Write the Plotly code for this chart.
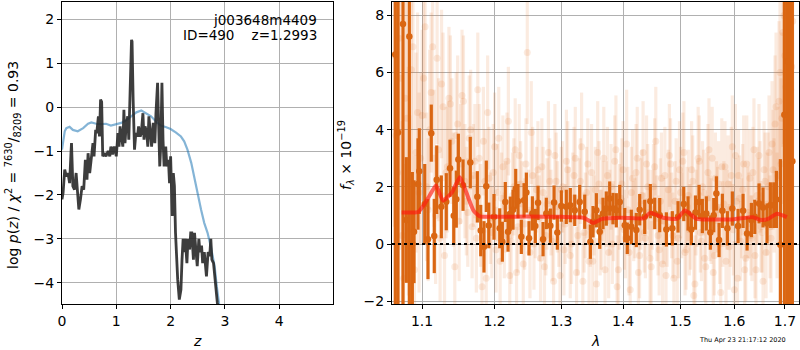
import plotly.graph_objects as go
import math

# ---------------- left panel: p(z) ----------------
pz_z = [0.0, 0.02, 0.05, 0.08, 0.11, 0.14, 0.165, 0.175, 0.2, 0.23, 0.26, 0.29, 0.31, 0.34, 0.37, 0.4,
        0.43, 0.46, 0.48, 0.51, 0.54, 0.57, 0.59, 0.62, 0.64, 0.67, 0.69, 0.71, 0.73, 0.75, 0.78, 0.81,
        0.85, 0.88, 0.9, 0.93, 0.96, 1.0, 1.03, 1.05, 1.07, 1.1, 1.12, 1.14, 1.16, 1.18, 1.21, 1.23,
        1.26, 1.28, 1.29, 1.31, 1.335, 1.36, 1.39, 1.41, 1.44, 1.46, 1.49, 1.51, 1.53, 1.56, 1.58, 1.6,
        1.63, 1.65, 1.68, 1.71, 1.73, 1.76, 1.78, 1.8, 1.82, 1.84, 1.86, 1.88, 1.91, 1.93, 1.96, 1.98,
        2.0, 2.02, 2.03, 2.05, 2.07, 2.09, 2.11, 2.13, 2.16, 2.19, 2.21, 2.23, 2.25, 2.27, 2.3, 2.32,
        2.35, 2.37, 2.39, 2.42, 2.44, 2.47, 2.49, 2.52, 2.54, 2.57, 2.59, 2.62, 2.64, 2.66, 2.69, 2.72,
        2.74, 2.76, 2.79, 2.81, 2.83, 2.86, 2.9]
pz_logp = [-2.1, -1.95, -1.42, -1.58, -1.5, -1.73, -1.05, -0.82, -1.8, -1.88, -1.5, -2.1, -2.33, -2.1, -1.8, -1.88,
           -1.2, -1.65, -1.05, -1.5, -1.12, -0.82, -1.12, -0.52, -0.59, -0.21, -0.67, 0.17, 0.12, -1.12, -1.05, -1.12,
           -1.0, -1.12, -0.9, -1.08, -0.9, -1.12, -0.59, -0.9, -0.44, -0.74, -0.9, -0.06, -0.82, -0.44, -0.21, -0.74,
           0.47, 1.53, 1.49, 0.17, -0.97, -0.59, -0.67, -0.44, -0.67, -0.59, -0.14, -0.74, -0.44, -0.59, -0.9, -0.21,
           -0.59, -0.9, -0.36, -0.82, -0.14, 0.55, -0.44, -1.35, -0.82, 0.55, -0.74, -1.35, -0.9, -1.35, -1.2, -1.73,
           -1.12, -2.1, -2.48, -1.5, -1.8, -2.86, -3.62, -3.92, -4.38, -4.15, -3.47, -3.0, -3.3, -3.0, -3.55, -3.0,
           -3.24, -2.86, -2.86, -3.47, -2.86, -3.3, -3.62, -3.0, -3.3, -3.15, -3.55, -3.3, -3.55, -3.85, -3.3, -3.39,
           -3.0, -3.47, -3.55, -3.85, -4.15, -4.45, -4.83]

chi_z = [0.0, 0.02, 0.05, 0.08, 0.14, 0.2, 0.29, 0.39, 0.48, 0.54, 0.63, 0.72, 0.81, 0.9, 1.0, 1.09,
         1.18, 1.27, 1.37, 1.46, 1.55, 1.64, 1.73, 1.82, 1.92, 2.0, 2.1, 2.19, 2.25, 2.31, 2.38, 2.44,
         2.5, 2.56, 2.62, 2.68, 2.74, 2.81, 2.85, 2.9, 2.93]
chi_val = [-0.97, -0.74, -0.55, -0.48, -0.45, -0.52, -0.55, -0.48, -0.38, -0.35, -0.38, -0.39, -0.38, -0.42, -0.38, -0.36,
           -0.3, -0.21, -0.12, -0.08, -0.14, -0.21, -0.33, -0.42, -0.46, -0.5, -0.58, -0.67, -0.78, -0.97, -1.27, -1.65,
           -2.03, -2.33, -2.64, -2.86, -3.17, -3.62, -4.08, -4.53, -4.83]

z_ticks = [0, 1, 2, 3, 4]
pz_ticks = [-4, -3, -2, -1, 0, 1, 2]

# ---------------- right panel: spectrum ----------------
spec_wave = [1.0652, 1.0687, 1.0751, 1.0794, 1.0833, 1.0872, 1.0894, 1.0946, 1.0963, 1.1035,
             1.1078, 1.1122, 1.1162, 1.1195, 1.1257, 1.1324, 1.1375, 1.1426, 1.1461, 1.1489,
             1.1554, 1.1655, 1.1754, 1.1802, 1.1848, 1.1881, 1.1916, 1.1991, 1.2074, 1.2112,
             1.2155, 1.2195, 1.2228, 1.2268, 1.2308, 1.2342, 1.2391, 1.2431, 1.2466, 1.2506,
             1.2556, 1.2601, 1.2642, 1.2718, 1.2768, 1.2830, 1.2887, 1.2938, 1.3000, 1.3078,
             1.3141, 1.3211, 1.3290, 1.3370, 1.3461, 1.3504, 1.3558, 1.3613, 1.3667, 1.3721,
             1.3777, 1.3832, 1.3887, 1.3944, 1.4028, 1.4071, 1.4139, 1.4224, 1.4282, 1.4368,
             1.4465, 1.4542, 1.4629, 1.4746, 1.4852, 1.4954, 1.5057, 1.5135, 1.5195, 1.5270,
             1.5336, 1.5397, 1.5471, 1.5545, 1.5609, 1.5658, 1.5709, 1.5771, 1.5866, 1.5961,
             1.6071, 1.6168, 1.6246, 1.6330, 1.6396, 1.6481, 1.6560, 1.6640, 1.6706, 1.6774,
             1.6827, 1.6908, 1.6989, 1.7051, 1.7112, 1.7153]
spec_flux = [6.63, 3.90, 7.70, 0.84, 7.26, 0.02, 0.43, 2.10, 2.55, 1.40,
             0.17, 3.88, 0.28, 2.25, 1.30, 1.48, 2.65, 0.99, 1.57, 2.96,
             2.06, 2.85, 1.65, 0.47, -0.10, 2.02, 0.65, 0.95, 0.55, 0.08,
             1.47, 0.43, 1.06, 1.20, 1.93, 1.50, 0.25, 1.53, 1.80, 0.20,
             1.07, 0.63, 1.44, 0.17, 1.07, 0.64, 1.45, 0.40, 1.33, 1.30,
             1.36, 1.18, 1.47, 1.13, 0.08, 0.78, 1.18, 0.43, 1.07, 1.24,
             1.59, 1.24, 1.18, 1.47, 0.66, 0.20, 0.60, 0.49, 1.20, 0.95,
             1.50, 1.07, 1.01, 0.51, 0.55, 0.95, 1.40, 1.07, 0.51, 1.10,
             1.47, 0.98, 1.07, 0.40, 1.01, 1.77, 0.14, 1.16, 0.55, 1.24,
             0.63, 1.16, 0.37, 0.84, 0.95, 1.42, 1.28, 0.72, 1.36, 1.36,
             1.56, -0.03, 4.52, 6.40, 1.63, 2.90]
spec_err = [20, 20, 20, 2.2, 20, 2.5, 1.8, 1.6, 1.5, 1.4,
            1.4, 1.0, 1.3, 1.2, 1.1, 1.0, 1.0, 1.0, 1.0, 0.9,
            0.9, 0.9, 0.9, 0.9, 0.9, 0.9, 0.8, 0.8, 0.7, 0.7,
            0.7, 0.7, 0.6, 0.7, 0.7, 0.6, 0.6, 0.6, 0.7, 0.6,
            0.6, 0.6, 0.6, 0.6, 0.55, 0.6, 0.6, 0.6, 0.55, 0.6,
            0.6, 0.55, 0.6, 0.6, 0.6, 0.55, 0.6, 0.6, 0.55, 0.6,
            0.6, 0.55, 0.6, 0.6, 0.6, 0.55, 0.6, 0.6, 0.55, 0.6,
            0.6, 0.55, 0.6, 0.6, 0.6, 0.55, 0.6, 0.6, 0.55, 0.6,
            0.6, 0.6, 0.6, 0.6, 0.6, 0.6, 0.6, 0.6, 0.6, 0.6,
            0.6, 0.6, 0.6, 0.6, 0.6, 0.7, 0.7, 0.7, 0.8, 0.8,
            1.0, 3.0, 20, 20, 20, 20]

faint_wave = [1.064, 1.068, 1.072, 1.076, 1.080, 1.084, 1.088, 1.092, 1.096, 1.100,
              1.104, 1.108, 1.112, 1.116, 1.120, 1.124, 1.128, 1.132, 1.136, 1.140,
              1.144, 1.148, 1.152, 1.156, 1.160, 1.164, 1.168, 1.172, 1.176, 1.180,
              1.184, 1.188, 1.192, 1.196, 1.200, 1.204, 1.208, 1.212, 1.216, 1.220,
              1.224, 1.228, 1.232, 1.236, 1.240, 1.244, 1.248, 1.252, 1.256, 1.260,
              1.264, 1.268, 1.272, 1.276, 1.280, 1.284, 1.288, 1.292, 1.296, 1.300,
              1.304, 1.308, 1.312, 1.316, 1.320, 1.324, 1.328, 1.332, 1.336, 1.340,
              1.344, 1.348, 1.352, 1.356, 1.360, 1.364, 1.368, 1.372, 1.376, 1.380,
              1.384, 1.388, 1.392, 1.396, 1.400, 1.404, 1.408, 1.412, 1.416, 1.420,
              1.424, 1.428, 1.432, 1.436, 1.440, 1.444, 1.448, 1.452, 1.456, 1.460,
              1.464, 1.468, 1.472, 1.476, 1.480, 1.484, 1.488, 1.492, 1.496, 1.500,
              1.504, 1.508, 1.512, 1.516, 1.520, 1.524, 1.528, 1.532, 1.536, 1.540,
              1.544, 1.548, 1.552, 1.556, 1.560, 1.564, 1.568, 1.572, 1.576, 1.580,
              1.584, 1.588, 1.592, 1.596, 1.600, 1.604, 1.608, 1.612, 1.616, 1.620,
              1.624, 1.628, 1.632, 1.636, 1.640, 1.644, 1.648, 1.652, 1.656, 1.660,
              1.664, 1.668, 1.672, 1.676, 1.680, 1.684, 1.688, 1.692, 1.696, 1.700,
              1.704, 1.708, 1.712, 1.716]
faint_flux = [6.6, 2.5, 5.8, -1.2, 4.4, 0.5, 6.9, 3.2, 1.8,
              4.5, 7.6, 1.2, 5.3, 3.0, 6.5, 0.2, 4.8, 2.5, 5.1, 3.6, -0.8, 4.2, 2.8, 5.0, 1.5, 3.7, 0.6, 2.9,
              5.4, 1.0, 3.6, -1.2, 2.3, 0.4, 3.4, 1.8, -0.6, 2.7, 1.3, 4.3, 0.1, 2.0, -1.0, 3.1, 1.4, 0.7,
              6.7, -0.3, 2.4, 1.0,
              2.6, -0.5, 1.8, 0.3, 3.2, 1.1, -1.3, 2.2, 0.6, 1.9, -0.2, 2.9, 1.2, 0.0, 2.4, -1.0, 1.5, 3.4, 0.4, 1.8,
              -0.6, 2.5, 1.0, -1.4, 2.1, 0.5, 3.0, 1.4, -0.3, 2.0, 0.8, 3.3, -0.9, 1.6, 2.6, 0.2, 1.2, -1.6, 2.3, 0.9,
              3.0, -0.4, 1.7, 0.4, 2.8, 1.1, -0.8, 2.0, 3.6, 0.3,
              1.5, -0.7, 2.4, 0.6, 3.1, 1.0, -1.2, 2.2, 0.2, 1.8, 2.9, -0.3, 1.3, 0.5, 2.6, -1.8, 1.1, 3.0, 0.4, 2.0,
              -0.5, 1.6, 3.3, 0.8, -1.0, 2.3, 1.2, 0.0, 2.7, 1.4, -0.6, 2.1, 0.7, 3.4, -1.6, 1.5, 2.4, 0.1, 1.9, -0.9,
              2.8, 1.0, 0.3, 2.5, -0.4, 1.7, 3.1, 0.6, -1.3, 2.2,
              1.4, 3.2, 0.2, 2.6, 4.2, 1.0, 5.0, 2.8, 7.4, 6.6, 3.9, 8.3, 5.4, 7.8]
faint_err = [6, 5, 6, 4, 5, 4, 5, 3.5, 3.5,
             3, 3.2, 2.5, 2.8, 2.4, 3.0, 2.2, 2.6, 2.3, 2.5, 2.2, 2.0, 2.4, 2.1, 2.3, 1.9, 2.2, 1.8, 2.0,
             2.0, 1.8, 1.9, 1.7, 1.8, 1.6, 1.9, 1.7, 1.5, 1.8, 1.6, 1.9, 1.5, 1.7, 1.6, 1.8, 1.5, 1.6, 2.5, 1.6, 1.7, 1.5,
             1.7, 1.5, 1.6, 1.4, 1.8, 1.5, 1.6, 1.7, 1.4, 1.5, 1.6, 1.8, 1.5, 1.4, 1.7, 1.6, 1.5, 1.9, 1.4, 1.6,
             1.5, 1.7, 1.4, 1.6, 1.5, 1.4, 1.8, 1.5, 1.6, 1.5, 1.4, 1.9, 1.5, 1.6, 1.7, 1.4, 1.5, 1.6, 1.7, 1.4,
             1.8, 1.5, 1.6, 1.4, 1.7, 1.5, 1.6, 1.5, 1.9, 1.4,
             1.5, 1.6, 1.7, 1.4, 1.8, 1.5, 1.6, 1.5, 1.4, 1.6, 1.7, 1.5, 1.4, 1.6, 1.7, 1.8, 1.5, 1.8, 1.4, 1.6,
             1.5, 1.6, 1.8, 1.5, 1.6, 1.6, 1.5, 1.4, 1.7, 1.5, 1.6, 1.7, 1.5, 1.8, 1.7, 1.5, 1.6, 1.4, 1.6, 1.5,
             1.7, 1.5, 1.4, 1.6, 1.5, 1.7, 1.8, 1.6, 1.6, 1.7,
             1.8, 2.0, 1.9, 2.1, 2.4, 2.2, 2.8, 3.0, 4.0, 4.5, 5.0, 6.0, 6.0, 7.0]

faint2_wave = [1.066, 1.070, 1.074, 1.078, 1.082, 1.086, 1.090, 1.094, 1.098, 1.102,
               1.106, 1.110, 1.114, 1.118, 1.122, 1.126, 1.130, 1.134, 1.138, 1.142,
               1.146, 1.150, 1.154, 1.158, 1.162, 1.166, 1.170, 1.174, 1.178, 1.182,
               1.186, 1.190, 1.194, 1.198, 1.202, 1.206, 1.210, 1.214, 1.218, 1.222,
               1.226, 1.230, 1.234, 1.238, 1.242, 1.246, 1.250, 1.254, 1.258, 1.262,
               1.266, 1.270, 1.274, 1.278, 1.282, 1.286, 1.290, 1.294, 1.298, 1.302,
               1.306, 1.310, 1.314, 1.318, 1.322, 1.326, 1.330, 1.334, 1.338, 1.342,
               1.346, 1.350, 1.354, 1.358, 1.362, 1.366, 1.370, 1.374, 1.378, 1.382,
               1.386, 1.390, 1.394, 1.398, 1.402, 1.406, 1.410, 1.414, 1.418, 1.422,
               1.426, 1.430, 1.434, 1.438, 1.442, 1.446, 1.450, 1.454, 1.458, 1.462,
               1.466, 1.470, 1.474, 1.478, 1.482, 1.486, 1.490, 1.494, 1.498, 1.502,
               1.506, 1.510, 1.514, 1.518, 1.522, 1.526, 1.530, 1.534, 1.538, 1.542,
               1.546, 1.550, 1.554, 1.558, 1.562, 1.566, 1.570, 1.574, 1.578, 1.582,
               1.586, 1.590, 1.594, 1.598, 1.602, 1.606, 1.610, 1.614, 1.618, 1.622,
               1.626, 1.630, 1.634, 1.638, 1.642, 1.646, 1.650, 1.654, 1.658, 1.662,
               1.666, 1.670, 1.674, 1.678, 1.682, 1.686, 1.690, 1.694, 1.698, 1.702,
               1.706, 1.710, 1.714]
faint2_flux = [3.8, 7.2, 0.3, 5.1, 2.2, 6.1, -0.9, 4.6, 3.0,
               5.8, 2.0, 4.0, 6.9, 1.0, 3.3, 5.6, -0.4, 2.7, 4.9, 1.9, 3.8, 0.8, 5.2, 2.2, 1.1, 4.0, 2.4, 0.2,
               3.0, -1.5, 2.2, 4.6, 0.9, 2.5, -0.2, 3.7, 1.6, 0.3, 2.9, -1.1, 1.7, 3.3, 0.6, 2.1, -0.7, 2.8, 1.1, 3.9,
               0.0, 1.9,
               0.9, 2.7, -0.8, 1.4, 2.2, 0.1, 3.1, 1.3, -1.1, 2.0, 0.7, 2.6, -0.4, 1.6, 3.0, 0.3, 2.2, -1.3, 1.0, 2.8,
               0.6, -0.6, 1.9, 3.2, 0.4, 1.5, -0.9, 2.4, 1.1, 0.0, 2.9, -1.5, 1.3, 2.1, 0.5, 3.5, -0.3, 1.8, 0.8, 2.5,
               -1.0, 1.4, 3.2, 0.2, 2.0, -0.5, 1.2, 2.7, 0.9, -0.2,
               2.3, 0.8, -1.1, 1.9, 2.8, 0.3, 1.5, -0.6, 2.6, 1.0, 3.2, -0.2, 1.7, 0.6, 2.2, -1.4, 1.4, 2.9, 0.1, 1.8,
               -0.8, 2.5, 0.9, 3.0, -0.4, 1.3, 2.1, -1.7, 0.7, 2.7, 1.2, -0.1, 2.4, 0.5, 3.1, -1.2, 1.6, 0.9, 2.8, -0.5,
               1.1, 2.3, 0.2, 3.3, -0.9, 1.5, 2.0, 0.4, 2.6, -0.3,
               2.0, 0.6, 3.5, 1.7, 4.8, 2.4, 6.0, 4.4, 8.0, 5.5, 7.0, 3.0, 6.2]
faint2_err = [5, 6, 4, 5, 4, 5, 4, 3.5, 3,
              3.2, 2.6, 2.8, 3.0, 2.4, 2.5, 2.6, 2.2, 2.3, 2.4, 2.0, 2.2, 2.1, 2.3, 2.0, 1.9, 2.1, 1.8, 1.9,
              1.9, 1.7, 1.8, 2.0, 1.6, 1.7, 1.5, 1.8, 1.6, 1.5, 1.7, 1.6, 1.5, 1.8, 1.6, 1.5, 1.7, 1.6, 1.5, 1.8,
              1.6, 1.5,
              1.5, 1.7, 1.4, 1.6, 1.5, 1.4, 1.8, 1.6, 1.5, 1.6, 1.4, 1.7, 1.5, 1.6, 1.8, 1.4, 1.5, 1.7, 1.5, 1.6,
              1.4, 1.6, 1.5, 1.8, 1.5, 1.4, 1.6, 1.7, 1.5, 1.4, 1.6, 1.8, 1.5, 1.6, 1.4, 1.9, 1.5, 1.6, 1.4, 1.7,
              1.5, 1.6, 1.8, 1.4, 1.5, 1.6, 1.4, 1.7, 1.5, 1.6,
              1.6, 1.5, 1.7, 1.4, 1.6, 1.5, 1.4, 1.6, 1.7, 1.5, 1.8, 1.4, 1.6, 1.5, 1.6, 1.7, 1.5, 1.6, 1.4, 1.5,
              1.6, 1.7, 1.5, 1.8, 1.4, 1.6, 1.5, 1.8, 1.5, 1.6, 1.4, 1.5, 1.7, 1.6, 1.8, 1.6, 1.5, 1.4, 1.7, 1.5,
              1.6, 1.7, 1.5, 1.8, 1.6, 1.5, 1.6, 1.4, 1.7, 1.6,
              1.9, 1.8, 2.2, 2.0, 2.6, 2.4, 3.2, 3.0, 4.5, 4.0, 5.5, 6.0, 6.5]

model_wave = [1.0734, 1.085, 1.095, 1.102, 1.110, 1.1185, 1.128, 1.140, 1.151, 1.160, 1.170, 1.179,
              1.20, 1.25, 1.30, 1.335, 1.351, 1.365, 1.40, 1.435, 1.446, 1.469, 1.493, 1.508, 1.529,
              1.56, 1.60, 1.636, 1.650, 1.665, 1.684, 1.704]
model_flux = [1.1, 1.1, 1.12, 1.35, 1.7, 2.05, 1.52, 1.8, 2.34, 1.8, 1.17, 0.97,
              0.95, 0.96, 0.95, 0.92, 0.74, 0.88, 0.92, 0.90, 1.09, 0.92, 0.88, 1.17, 0.88,
              0.86, 0.87, 0.94, 0.85, 0.87, 1.06, 0.94]

lam_ticks = [1.1, 1.2, 1.3, 1.4, 1.5, 1.6, 1.7]
flux_ticks = [-2, 0, 2, 4, 6, 8]

assert len(spec_wave) == len(spec_flux) == len(spec_err)
assert len(faint_wave) == len(faint_flux) == len(faint_err)
assert len(faint2_wave) == len(faint2_flux) == len(faint2_err)
assert len(pz_z) == len(pz_logp) and len(chi_z) == len(chi_val)

ORANGE = 'rgb(218,102,18)'
FAINT = 'rgba(225,115,35,0.14)'
FONT = 'DejaVu Sans'

fig = go.Figure()

fig.add_trace(go.Scatter(x=chi_z, y=chi_val, mode='lines', xaxis='x', yaxis='y',
                         line=dict(color='rgba(31,119,180,0.55)', width=2.2), showlegend=False))
fig.add_trace(go.Scatter(x=pz_z, y=pz_logp, mode='lines', xaxis='x', yaxis='y',
                         line=dict(color='rgba(40,40,40,0.9)', width=2.8), showlegend=False))

for fw, ff, fe in ((faint_wave, faint_flux, faint_err), (faint2_wave, faint2_flux, faint2_err)):
    fig.add_trace(go.Scatter(x=fw, y=ff, mode='markers', xaxis='x2', yaxis='y2',
                             marker=dict(color=FAINT, size=7),
                             error_y=dict(type='data', array=fe, thickness=3.2, width=0, color=FAINT),
                             showlegend=False))
fig.add_trace(go.Scatter(x=spec_wave, y=spec_flux, mode='markers', xaxis='x2', yaxis='y2',
                         marker=dict(color=ORANGE, size=6.5),
                         error_y=dict(type='data', array=spec_err, thickness=3.2, width=0, color=ORANGE),
                         showlegend=False))
fig.add_trace(go.Scatter(x=model_wave, y=model_flux, mode='lines', xaxis='x2', yaxis='y2',
                         line=dict(color='rgba(255,25,15,0.65)', width=4, shape='spline', smoothing=0.5),
                         showlegend=False))

axis_common = dict(showline=True, linecolor='black', linewidth=1, mirror=True,
                   ticks='outside', ticklen=4, tickwidth=1, tickcolor='black',
                   showgrid=True, gridcolor='#b0b0b0', gridwidth=1, zeroline=False, automargin=False,
                   tickfont=dict(family=FONT, size=14, color='black'))

ydom = [46 / 350, 348 / 350]
fig.update_layout(
    width=800, height=350, margin=dict(l=0, r=0, t=0, b=0),
    paper_bgcolor='white', plot_bgcolor='white',
    font=dict(family=FONT, color='black', size=14),
    xaxis=dict(domain=[62 / 800, 333 / 800], range=[0, 4.99], tickvals=z_ticks, anchor='y', **axis_common),
    yaxis=dict(domain=ydom, range=[-4.48, 2.39], tickvals=pz_ticks, anchor='x', **axis_common),
    xaxis2=dict(domain=[392 / 800, 799 / 800], type='log', range=[math.log10(1.061), math.log10(1.729)],
                tickvals=lam_ticks, ticktext=[str(v) for v in lam_ticks], anchor='y2', **axis_common),
    yaxis2=dict(domain=ydom, range=[-2.1, 8.47], tickvals=flux_ticks, anchor='x2', **axis_common),
)

fig.add_shape(type='line', xref='x2 domain', x0=0, x1=1, yref='y2', y0=0, y1=0,
              line=dict(color='black', width=2, dash='dot'))

NB = '\u00a0'
for txt, ypx in (('j003648m4409', 20), ('ID=490' + NB * 4 + 'z=1.2993', 35)):
    fig.add_annotation(text=txt, x=319 / 800, y=(350 - ypx) / 350, xref='paper', yref='paper',
                       xanchor='right', yanchor='middle', showarrow=False,
                       font=dict(family=FONT, size=13.5, color='black'))

fig.add_annotation(text='<i>z</i>', x=197 / 800, y=(350 - 341) / 350, xref='paper', yref='paper',
                   showarrow=False, xanchor='center', yanchor='middle', font=dict(family=FONT, size=14, color='black'))
fig.add_annotation(text='<i>λ</i>', x=595 / 800, y=(350 - 341) / 350, xref='paper', yref='paper',
                   showarrow=False, xanchor='center', yanchor='middle', font=dict(family=FONT, size=14, color='black'))
fig.add_annotation(text='log <i>p</i>(<i>z</i>) / <i>χ</i><sup>2</sup> = <sup>7630</sup>/<sub>8209</sub> = 0.93',
                   x=13 / 800, y=(350 - 165) / 350, xref='paper', yref='paper', textangle=-90,
                   showarrow=False, xanchor='center', yanchor='middle', font=dict(family=FONT, size=14, color='black'))
fig.add_annotation(text='<i>f</i><sub><i>λ</i></sub> × 10<sup>−19</sup>',
                   x=346 / 800, y=(350 - 155) / 350, xref='paper', yref='paper', textangle=-90,
                   showarrow=False, xanchor='center', yanchor='middle', font=dict(family=FONT, size=14, color='black'))
fig.add_annotation(text='Thu Apr 23 21:17:12 2020', x=788 / 800, y=(350 - 340) / 350, xref='paper', yref='paper',
                   showarrow=False, xanchor='right', yanchor='middle', font=dict(family=FONT, size=6.5, color='black'))

fig.write_html('out.html')
